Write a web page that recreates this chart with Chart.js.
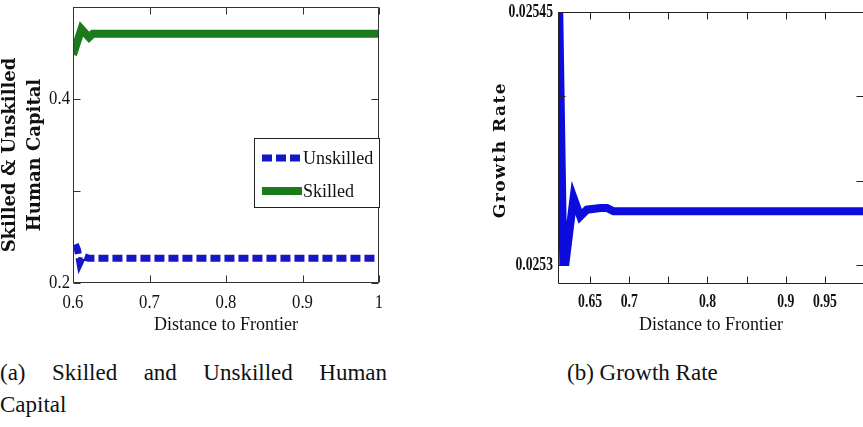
<!DOCTYPE html>
<html>
<head>
<meta charset="utf-8">
<script src="https://cdn.jsdelivr.net/npm/chart.js@4.4.0/dist/chart.umd.min.js"></script>
<style>
  html, body { margin: 0; padding: 0; background: #fff; width: 863px; height: 427px; overflow: hidden; }
  .panel { position: absolute; top: 0; }
  .cap { position: absolute; font: 23px "Liberation Serif", serif; color: #111; line-height: 32px; }
  #capA { left: 0; top: 357px; width: 387px; }
  #capA .l1 { text-align: justify; text-align-last: justify; }
  #capB { left: 567px; top: 357px; white-space: nowrap; }
</style>
</head>
<body>
<div class="panel" style="left:0"><canvas id="hc" width="390" height="345"></canvas></div>
<div class="panel" style="left:460px"><canvas id="gr" width="405" height="345"></canvas></div>
<div class="cap" id="capA"><div class="l1">(a) Skilled and Unskilled Human</div><div>Capital</div></div>
<div class="cap" id="capB">(b) Growth Rate</div>
<script>
// (a) human capital against distance to frontier
const unskilledX = [0.603, 0.606, 0.609, 0.613, 0.620, 1.000];
const unskilledY = [0.242, 0.236, 0.222, 0.229, 0.227, 0.227];
const skilledX = [0.600, 0.611, 0.621, 0.626, 1.000];
const skilledY = [0.448, 0.476, 0.467, 0.471, 0.471];
const hcTicksX = [0.6, 0.7, 0.8, 0.9, 1];
const hcLabelsX = ['0.6', '0.7', '0.8', '0.9', '1'];
const hcTicksY = [0.2, 0.3, 0.4, 0.5];
const hcLabelsY = ['0.2', '', '0.4', ''];

// (b) growth rate against distance to frontier
const growthX = [0.6106, 0.6157, 0.6187, 0.6289, 0.6374, 0.6460, 0.6630, 0.6715, 0.6800, 1.0000];
const growthY = [0.02545, 0.025302, 0.025302, 0.025340, 0.025329, 0.025333, 0.025334, 0.025334, 0.025332, 0.025332];
const grTicksX = [0.65, 0.7, 0.75, 0.8, 0.85, 0.9, 0.95];
const grLabelsX = ['0.65', '0.7', '', '0.8', '', '0.9', '0.95'];
const grTicksY = [0.0253, 0.02535, 0.0254, 0.02545];
const grLabelsY = ['0.0253', '', '', '0.02545'];

const pts = (xs, ys) => xs.map((x, i) => ({ x, y: ys[i] }));

function squeezeText(ctx, text, x, y, sx, align) {
  ctx.save();
  ctx.translate(x, y);
  ctx.scale(sx, 1);
  ctx.textAlign = align;
  ctx.fillText(text, 0, 0);
  ctx.restore();
}

// matlab-style box with inward ticks, labels and axis titles
const frame = {
  id: 'frame',
  afterDatasetsDraw(chart, args, o) {
    const { ctx, chartArea: a, scales: { x, y } } = chart;
    const L = Math.round(a.left) + 0.5, R = Math.round(a.right) - 0.5;
    const T = Math.round(a.top) + 0.5, B = Math.round(a.bottom) - 0.5;
    ctx.save();
    ctx.strokeStyle = o.color;
    ctx.lineWidth = 1;
    ctx.beginPath();
    ctx.rect(L, T, R - L, B - T);
    o.ticksX.forEach(v => {
      const px = Math.round(x.getPixelForValue(v)) + 0.5;
      ctx.moveTo(px, B); ctx.lineTo(px, B - o.tickLen);
      ctx.moveTo(px, T); ctx.lineTo(px, T + o.tickLen);
    });
    o.ticksY.forEach(v => {
      const py = Math.round(y.getPixelForValue(v)) + 0.5;
      ctx.moveTo(L, py); ctx.lineTo(L + o.tickLen, py);
      ctx.moveTo(R, py); ctx.lineTo(R - o.tickLen, py);
    });
    ctx.stroke();

    ctx.fillStyle = '#111';
    ctx.font = o.tickFont;
    ctx.textBaseline = 'middle';
    o.ticksX.forEach((v, i) => {
      if (o.labelsX[i]) squeezeText(ctx, o.labelsX[i], x.getPixelForValue(v), o.xLabelY, o.squeeze, 'center');
    });
    o.ticksY.forEach((v, i) => {
      if (o.labelsY[i]) squeezeText(ctx, o.labelsY[i], a.left - o.yLabelGap, y.getPixelForValue(v), o.squeeze, 'right');
    });

    ctx.textBaseline = 'alphabetic';
    ctx.textAlign = 'center';
    ctx.font = o.xTitleFont;
    ctx.fillText(o.xTitle, (a.left + a.right) / 2, o.xTitleY);

    ctx.font = o.yTitleFont;
    ctx.letterSpacing = o.yTitleSpacing || '0px';
    o.yTitle.forEach((line, i) => {
      ctx.save();
      ctx.translate(o.yTitleX[i], o.yTitleMid);
      ctx.rotate(-Math.PI / 2);
      ctx.fillText(line, 0, 0);
      ctx.restore();
    });
    ctx.letterSpacing = '0px';
    ctx.restore();
  }
};

// boxed legend sitting against the right axis
const boxLegend = {
  id: 'boxLegend',
  afterDraw(chart, args, o) {
    if (!o.display) return;
    const { ctx } = chart;
    ctx.save();
    ctx.fillStyle = '#fff';
    ctx.fillRect(o.x, o.y, o.w, o.h);
    ctx.strokeStyle = '#222';
    ctx.lineWidth = 1;
    ctx.strokeRect(o.x + 0.5, o.y + 0.5, o.w - 1, o.h - 1);
    chart.data.datasets.forEach((ds, i) => {
      const cy = o.rows[i];
      ctx.strokeStyle = ds.borderColor;
      ctx.lineWidth = ds.borderWidth;
      ctx.lineCap = 'butt';
      ctx.setLineDash(ds.borderDash || []);
      ctx.beginPath();
      ctx.moveTo(o.x + 8, cy);
      ctx.lineTo(o.x + 48, cy);
      ctx.stroke();
      ctx.setLineDash([]);
      ctx.fillStyle = '#111';
      ctx.font = o.font;
      ctx.textBaseline = 'middle';
      squeezeText(ctx, ds.label, o.x + 49, cy + 1, 0.95, 'left');
    });
    ctx.restore();
  }
};

Chart.register(frame, boxLegend);

new Chart(document.getElementById('hc'), {
  type: 'line',
  data: {
    datasets: [
      { label: 'Unskilled', data: pts(unskilledX, unskilledY), borderColor: '#1616c4', borderWidth: 7,
        borderDash: [10, 4], pointRadius: 0, tension: 0, borderJoinStyle: 'miter' },
      { label: 'Skilled', data: pts(skilledX, skilledY), borderColor: '#1b7a1b', borderWidth: 8,
        pointRadius: 0, tension: 0, borderJoinStyle: 'miter' }
    ]
  },
  options: {
    responsive: false, animation: false, devicePixelRatio: 1,
    layout: { padding: { left: 73, right: 11, top: 7, bottom: 62 } },
    scales: {
      x: { type: 'linear', min: 0.6, max: 1.0, display: false },
      y: { type: 'linear', min: 0.2, max: 0.5, display: false }
    },
    plugins: {
      legend: { display: false }, tooltip: { enabled: false },
      frame: {
        color: '#333', tickLen: 7, ticksX: hcTicksX, labelsX: hcLabelsX, ticksY: hcTicksY, labelsY: hcLabelsY,
        tickFont: '19px "Liberation Serif"', squeeze: 0.88, xLabelY: 303, yLabelGap: 3,
        xTitle: 'Distance to Frontier', xTitleFont: '18px "Liberation Serif"', xTitleY: 330,
        yTitle: ['Skilled & Unskilled', 'Human Capital'], yTitleFont: 'bold 18px "DejaVu Serif"',
        yTitleX: [15, 40], yTitleMid: 155
      },
      boxLegend: { display: true, x: 254, y: 138, w: 126, h: 70, rows: [158, 191], font: '19px "Liberation Serif"' }
    }
  }
});

new Chart(document.getElementById('gr'), {
  type: 'line',
  data: {
    datasets: [
      { label: 'Growth Rate', data: pts(growthX, growthY), borderColor: '#0c0cdc', borderWidth: 8,
        pointRadius: 0, tension: 0, borderJoinStyle: 'miter' }
    ]
  },
  options: {
    responsive: false, animation: false, devicePixelRatio: 1,
    layout: { padding: { left: 98, right: 1, top: 12, bottom: 61 } },
    scales: {
      x: { type: 'linear', min: 0.609, max: 1.0, display: false },
      y: { type: 'linear', min: 0.025289, max: 0.02545, display: false }
    },
    plugins: {
      legend: { display: false }, tooltip: { enabled: false },
      frame: {
        color: '#222', tickLen: 7, ticksX: grTicksX, labelsX: grLabelsX, ticksY: grTicksY, labelsY: grLabelsY,
        tickFont: 'bold 19px "Liberation Serif"', squeeze: 0.72, xLabelY: 302, yLabelGap: 5,
        xTitle: 'Distance to Frontier', xTitleFont: '18px "Liberation Serif"', xTitleY: 330,
        yTitle: ['Growth Rate'], yTitleFont: 'bold 17px "DejaVu Serif"', yTitleSpacing: '1.5px',
        yTitleX: [45], yTitleMid: 150
      },
      boxLegend: { display: false }
    }
  }
});
</script>
</body>
</html>
